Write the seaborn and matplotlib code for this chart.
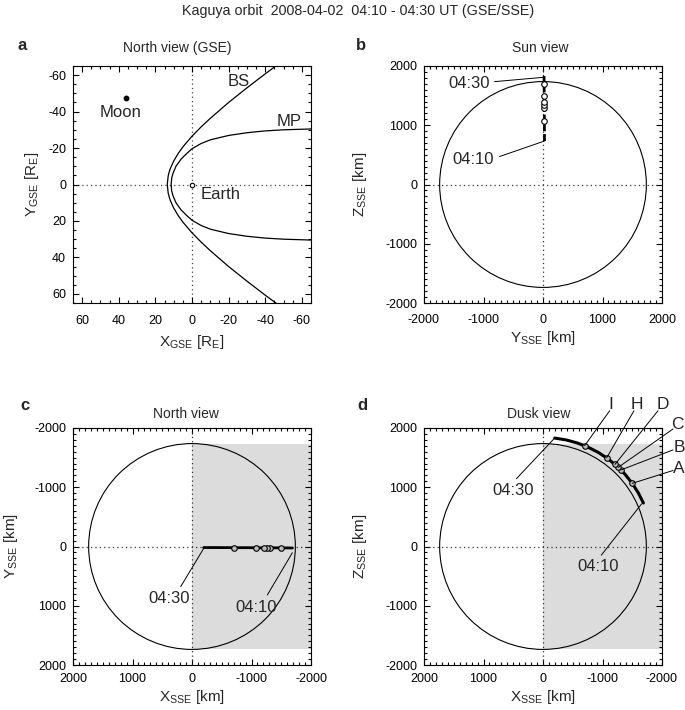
import numpy as np
import pandas as pd
import matplotlib
matplotlib.use("Agg")
import matplotlib.pyplot as plt
from matplotlib.patches import Circle, Rectangle
import seaborn as sns

# ---------------- data ----------------
title_main = "Kaguya orbit  2008-04-02  04:10 - 04:30 UT (GSE/SSE)"

# Panel a: bow shock / magnetopause (half curves, |Y| vs X in R_E)
bs_x = [13.5, 13.0, 12.0, 10.0, 7.5, 5.0, 0.0, -5.0, -10.0, -20.0, -30.0, -40.0, -47.0]
bs_y = [0.0, 4.8, 8.4, 12.9, 17.1, 20.6, 26.5, 31.6, 36.3, 45.0, 53.0, 60.7, 65.9]
mp_x = [11.4, 11.1, 10.4, 8.75, 6.0, 3.0, 0.0, -5.0, -10.0, -20.0, -30.0, -40.0, -50.0, -66.0]
mp_y = [0.0, 3.4, 6.1, 10.0, 13.9, 16.9, 19.6, 22.5, 24.5, 26.9, 28.4, 29.4, 30.0, 30.5]
moon_gse = (36.0, -47.5)
earth_gse = (0.0, 0.0)

# Kaguya trajectory (SSE, km), every 2 minutes 04:10 .. 04:30
traj_time = ["04:10", "04:12", "04:14", "04:16", "04:18", "04:20",
             "04:22", "04:24", "04:26", "04:28", "04:30"]
traj_x = [-1687, -1601, -1496, -1376, -1239, -1089, -927, -755, -574, -387, -196]
traj_y = [25, 24, 23, 22, 22, 21, 20, 20, 19, 18, 18]
traj_z = [734, 907, 1071, 1222, 1360, 1483, 1589, 1678, 1748, 1799, 1830]

# event markers
ev_names = ["A", "B", "C", "D", "H", "I"]
ev_x = [-1500, -1310, -1265, -1210, -1070, -700]
ev_y = [23, 22, 22, 22, 21, 20]
ev_z = [1066, 1292, 1336, 1386, 1497, 1702]

moon_radius = 1737

# ---------------- style ----------------
sns.set_theme(style="ticks")
plt.rcParams["font.family"] = ["Liberation Sans", "DejaVu Sans"]
plt.rcParams["mathtext.fontset"] = "custom"
plt.rcParams["mathtext.rm"] = "Liberation Sans"
plt.rcParams["mathtext.it"] = "Liberation Sans:italic"
plt.rcParams["axes.linewidth"] = 0.8
plt.rcParams["axes.unicode_minus"] = False

traj = pd.DataFrame({"t": traj_time, "x": traj_x, "y": traj_y, "z": traj_z})
ev = pd.DataFrame({"n": ev_names, "x": ev_x, "y": ev_y, "z": ev_z})

fig = plt.figure(figsize=(6.85, 7.10), dpi=100)
W, H = 685, 710


def add_ax(l, t, r, b):
    return fig.add_axes([l / W, 1 - b / H, (r - l) / W, (b - t) / H])


ax_a = add_ax(73, 66, 311, 303)
ax_b = add_ax(424, 66, 662, 303)
ax_c = add_ax(73, 428, 311, 665)
ax_d = add_ax(424, 428, 662, 665)

tick_fs = 9
lab_fs = 11
txt_fs = 12
dot_ls = (0, (1, 2.5))


def style_axes(ax, major, minor, xpad):
    ax.xaxis.set_major_locator(plt.MultipleLocator(major))
    ax.yaxis.set_major_locator(plt.MultipleLocator(major))
    ax.xaxis.set_minor_locator(plt.MultipleLocator(minor))
    ax.yaxis.set_minor_locator(plt.MultipleLocator(minor))
    ax.tick_params(which="both", direction="in", top=True, right=True,
                   colors="black", width=0.8, labelsize=tick_fs)
    ax.tick_params(which="major", length=4.5)
    ax.tick_params(axis="y", which="major", pad=5)
    ax.tick_params(axis="x", which="major", pad=xpad)
    ax.tick_params(which="minor", length=2.5)
    for s in ax.spines.values():
        s.set_color("black")
        s.set_linewidth(0.8)


def set_labels(ax, xl, yl, xy_y, yx_x):
    ax.set_xlabel(xl, fontsize=lab_fs)
    ax.set_ylabel(yl, fontsize=lab_fs)
    ax.xaxis.label.set_va("center")
    ax.yaxis.label.set_va("center")
    ax.xaxis.set_label_coords(0.5, xy_y)
    ax.yaxis.set_label_coords(yx_x, 0.5)


# ---------------- panel a ----------------
ax = ax_a
bs_full_x = bs_x[::-1] + bs_x[1:]
bs_full_y = [-v for v in bs_y[::-1]] + bs_y[1:]
mp_full_x = mp_x[::-1] + mp_x[1:]
mp_full_y = [-v for v in mp_y[::-1]] + mp_y[1:]
sns.lineplot(x=bs_full_x, y=bs_full_y, sort=False, estimator=None, ax=ax,
             color="black", lw=0.9)
sns.lineplot(x=mp_full_x, y=mp_full_y, sort=False, estimator=None, ax=ax,
             color="black", lw=0.9)
ax.axhline(0, color="#444444", lw=0.9, ls=dot_ls, zorder=0)
ax.axvline(0, color="#444444", lw=0.9, ls=dot_ls, zorder=0)
ax.plot([moon_gse[0]], [moon_gse[1]], "o", color="black", ms=3.2)
ax.plot([earth_gse[0]], [earth_gse[1]], "o", mfc="white", mec="black", ms=3.2, mew=0.8)
ax.text(39, -39.7, "Moon", ha="center", va="center", fontsize=txt_fs)
ax.text(-15.5, 5.5, "Earth", ha="center", va="center", fontsize=txt_fs)
ax.text(-25.5, -56.5, "BS", ha="center", va="center", fontsize=txt_fs)
ax.text(-53, -34.5, "MP", ha="center", va="center", fontsize=txt_fs)
ax.set_xlim(65, -65)
ax.set_ylim(65, -65)
style_axes(ax, 20, 5, 9)
ax.set_xticks([60, 40, 20, 0, -20, -40, -60])
ax.set_yticks([-60, -40, -20, 0, 20, 40, 60])
set_labels(ax, r"X$_{\rm GSE}$ [R$_{\rm E}$]", r"Y$_{\rm GSE}$ [R$_{\rm E}$]", -0.165, -0.172)

# ---------------- panels b,c,d common ----------------
def moon_circle(ax):
    ax.add_patch(Circle((0, 0), moon_radius, fill=False, ec="black", lw=0.8, zorder=2))


def shadow(ax):
    ax.add_patch(Rectangle((0, -moon_radius), -2000, 2 * moon_radius,
                           fc="#dcdcdc", ec="none", zorder=0))


def zero_lines(ax):
    ax.axhline(0, color="#333333", lw=0.9, ls=dot_ls, zorder=1)
    ax.axvline(0, color="#333333", lw=0.9, ls=dot_ls, zorder=1)


def leader(ax, x0, y0, x1, y1):
    ax.plot([x0, x1], [y0, y1], color="black", lw=0.7, clip_on=False, zorder=5)


# ---------------- panel b: Sun view (Y-Z) ----------------
ax = ax_b
moon_circle(ax)
zero_lines(ax)
sns.lineplot(data=traj, x="y", y="z", sort=False, estimator=None, ax=ax,
             color="black", lw=2.0, zorder=4)
ax.lines[-1].set_linestyle((0, (2.5, 1.0)))
ax.plot(ev["y"], ev["z"], "o", mfc="white", mec="black", ms=4, mew=0.8, zorder=5)
ax.text(-1236, 1708, "04:30", ha="center", va="center", fontsize=txt_fs)
leader(ax, -815, 1736, traj_y[-1], traj_z[-1] - 20)
ax.text(-1180, 420, "04:10", ha="center", va="center", fontsize=txt_fs)
leader(ax, -730, 472, traj_y[0], traj_z[0])
ax.set_xlim(-2000, 2000)
ax.set_ylim(-2000, 2000)
style_axes(ax, 1000, 100, 8)
set_labels(ax, r"Y$_{\rm SSE}$ [km]", r"Z$_{\rm SSE}$ [km]", -0.148, -0.269)

# ---------------- panel c: North view (X-Y) ----------------
ax = ax_c
shadow(ax)
moon_circle(ax)
zero_lines(ax)
sns.lineplot(data=traj, x="x", y="y", sort=False, estimator=None, ax=ax,
             color="black", lw=2.0, zorder=4)
ax.plot(ev["x"], ev["y"], "o", mfc="#bbbbbb", mec="black", ms=4, mew=0.8, zorder=5)
ax.text(386, 874, "04:30", ha="center", va="center", fontsize=txt_fs)
leader(ax, 190, 678, traj_x[-1], traj_y[-1] + 15)
ax.text(-1070, 1025, "04:10", ha="center", va="center", fontsize=txt_fs)
leader(ax, -1266, 818, traj_x[0], traj_y[0] + 80)
ax.set_xlim(2000, -2000)
ax.set_ylim(2000, -2000)
style_axes(ax, 1000, 100, 5.5)
set_labels(ax, r"X$_{\rm SSE}$ [km]", r"Y$_{\rm SSE}$ [km]", -0.135, -0.262)

# ---------------- panel d: Dusk view (X-Z) ----------------
ax = ax_d
shadow(ax)
moon_circle(ax)
zero_lines(ax)
sns.lineplot(data=traj, x="x", y="z", sort=False, estimator=None, ax=ax,
             color="black", lw=2.2, zorder=4)
ax.plot(ev["x"], ev["z"], "o", mfc="#bbbbbb", mec="black", ms=4, mew=0.8, zorder=5)
ax.text(504, 947, "04:30", ha="center", va="center", fontsize=txt_fs)
leader(ax, 448, 1143, traj_x[-1], traj_z[-1])
ax.text(-924, -342, "04:10", ha="center", va="center", fontsize=txt_fs)
leader(ax, -980, -146, traj_x[0] + 30, traj_z[0] - 15)
# event labels (outside the frame)
ev_label_pos = {"I": (-1148, 2403), "H": (-1585, 2403), "D": (-2017, 2403),
                "C": (-2258, 2067), "B": (-2286, 1664), "A": (-2286, 1311)}
ev_line_start = {"I": (-1120, 2291), "H": (-1529, 2291), "D": (-1933, 2291),
                 "C": (-2185, 1983), "B": (-2185, 1630), "A": (-2185, 1283)}
for n, x, z in zip(ev_names, ev_x, ev_z):
    lx, lz = ev_label_pos[n]
    sx, sz = ev_line_start[n]
    ax.text(lx, lz, n, ha="center", va="center", fontsize=12.5, clip_on=False)
    leader(ax, sx, sz, x, z)
ax.set_xlim(2000, -2000)
ax.set_ylim(-2000, 2000)
style_axes(ax, 1000, 100, 5.5)
set_labels(ax, r"X$_{\rm SSE}$ [km]", r"Z$_{\rm SSE}$ [km]", -0.135, -0.269)

# ---------------- titles & panel letters ----------------
for t, x, y in [("North view (GSE)", 177, 48), ("Sun view", 540, 48),
                ("North view", 186, 414), ("Dusk view", 539, 414)]:
    fig.text(x / W, 1 - y / H, t, ha="center", va="center", fontsize=10)

for lx, ly, s in [(22, 46, "a"), (361, 46, "b"), (25, 405, "c"), (362, 405, "d")]:
    fig.text(lx / W, 1 - ly / H, s, ha="center", va="center", fontsize=12, fontweight="bold")

fig.text(358 / W, 1 - 11 / H, title_main, ha="center", va="center", fontsize=10.3)

fig.savefig("out.png", dpi=100)
